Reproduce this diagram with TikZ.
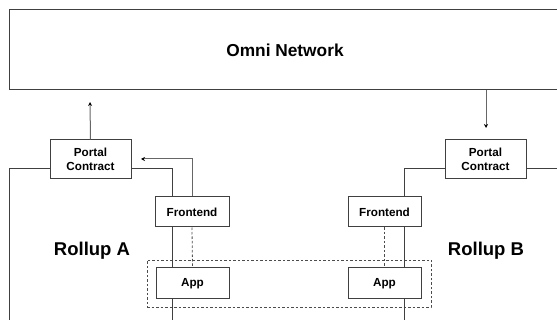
\documentclass[tikz,border=0pt]{standalone}
\usepackage{fontspec}
\setmainfont{Liberation Sans}
\usetikzlibrary{arrows.meta}
\begin{document}
\begin{tikzpicture}[x=1pt,y=-1pt,
  box/.style={draw=black!75, line width=1pt, fill=white, inner sep=0pt, align=center, font=\bfseries\fontsize{11.7}{14}\selectfont},
  wire/.style={draw=black!75, line width=1pt},
  arr/.style={draw=black!60, line width=1pt, -{Stealth[length=4pt,width=4pt,black]}},
  dsh/.style={draw=black!70, line width=0.8pt, dash pattern=on 2.5pt off 2pt},
  big/.style={font=\bfseries\fontsize{18.5}{22}\selectfont}]
\useasboundingbox (0,0) rectangle (557,320);
\clip (0,0) rectangle (557,320);
% Omni Network
\node[box, minimum width=552pt, minimum height=80pt, font=\bfseries\fontsize{17.3}{20}\selectfont] (omni) at (285,50) {Omni Network};
% left side
\node[box, minimum width=81pt, minimum height=39pt] (pa) at (90.5,159.5) {Portal\\Contract};
\node[box, minimum width=74pt, minimum height=30pt] (fa) at (192,212) {Frontend};
\node[box, minimum width=73pt, minimum height=31pt] (aa) at (192.5,283.5) {App};
\node[big] (ra) at (92,251) {Rollup A};
% right side
\node[box, minimum width=81pt, minimum height=39pt] (pb) at (485.5,159.5) {Portal\\Contract};
\node[box, minimum width=73pt, minimum height=30pt] (fb) at (384.5,212) {Frontend};
\node[box, minimum width=73pt, minimum height=31pt] (ab) at (384.5,283.5) {App};
\node[big] (rb) at (486,251) {Rollup B};
% dashed group
\node[dsh, draw, minimum width=284pt, minimum height=47pt, inner sep=0pt] (grp) at (289,283.5) {};
% coordinates
\coordinate (aup) at (90,102);
\coordinate (lft) at (9,169);
\coordinate (lbot) at (9,322);
\coordinate (rgt) at (560,169);
\coordinate (atip) at (141,159);
\coordinate (abot) at (172,322);
\coordinate (bbot) at (404,322);
\coordinate (bdn) at (486,128);
% connectors
\draw[arr] (pa.north) -- (aup);
\draw[arr] (omni.south -| bdn) -- (bdn);
\draw[wire] (pa.west |- lft) -- (lft) -- (lbot);
\draw[wire] (pa.east |- lft) -| (fa.north -| abot);
\draw[arr] (fa.north -| 192,0) |- (atip);
\draw[wire] (fa.south -| abot) -- (aa.north -| abot);
\draw[wire] (aa.south -| abot) -- (abot);
\draw[dsh] (fa.south) -- (aa.north);
\draw[wire] (pb.east |- rgt) -- (rgt);
\draw[wire] (pb.west |- rgt) -| (fb.north -| bbot);
\draw[wire] (fb.south -| bbot) -- (ab.north -| bbot);
\draw[wire] (ab.south -| bbot) -- (bbot);
\draw[dsh] (fb.south) -- (ab.north);
\end{tikzpicture}
\end{document}
